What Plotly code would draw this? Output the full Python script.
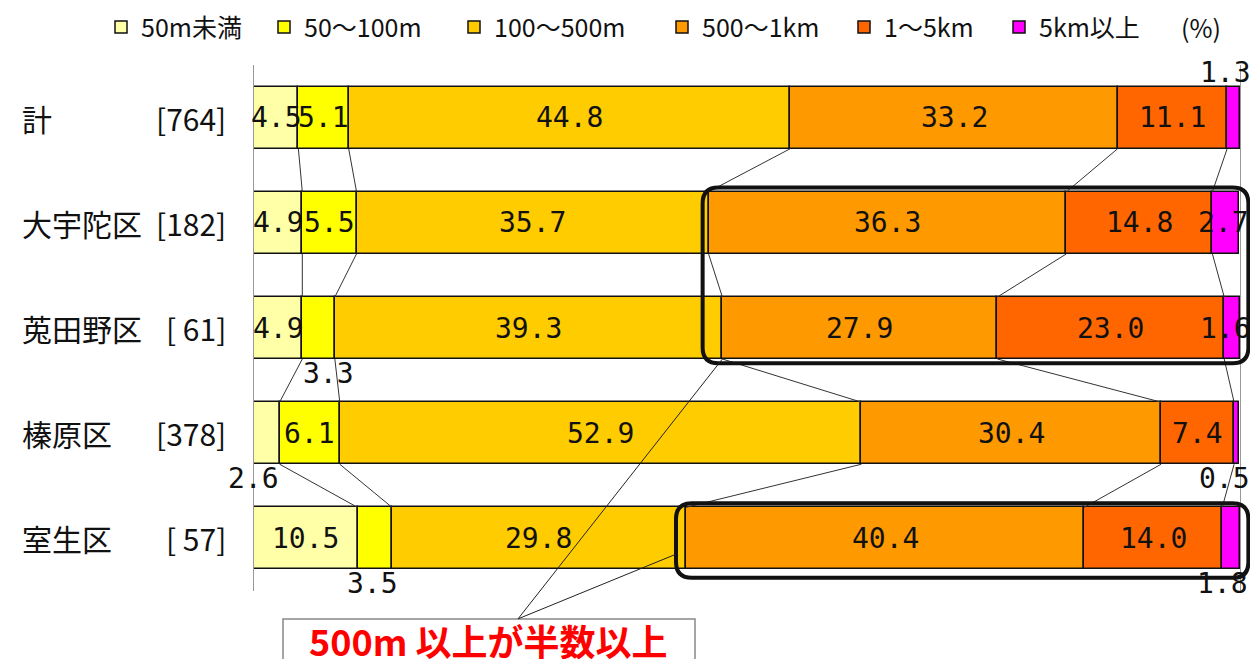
import plotly.graph_objects as go
import numpy as np

# Categories (area name and number of respondents)
areas = ["計", "大宇陀区", "莵田野区", "榛原区", "室生区"]
counts = ["[764]", "[182]", "[ 61]", "[378]", "[ 57]"]

# Distance bands
bands = ["50m未満", "50～100m", "100～500m", "500～1km", "1～5km", "5km以上"]
band_colors = ["#FFFFA8", "#FFFF00", "#FFCC00", "#FF9900", "#FF6600", "#FF00FF"]

# Share (%) per band, one list per band, in area order
lt50 = [4.5, 4.9, 4.9, 2.6, 10.5]
b50_100 = [5.1, 5.5, 3.3, 6.1, 3.5]
b100_500 = [44.8, 35.7, 39.3, 52.9, 29.8]
b500_1k = [33.2, 36.3, 27.9, 30.4, 40.4]
b1_5k = [11.1, 14.8, 23.0, 7.4, 14.0]
ge5k = [1.3, 2.7, 1.6, 0.5, 1.8]

series = [lt50, b50_100, b100_500, b500_1k, b1_5k, ge5k]
vals = np.array(series).T          # rows = areas, cols = bands
cum = np.cumsum(vals, axis=1)      # right edge of each segment
left = cum - vals

# Small segments whose value sits outside the bar: (row, band): (side, xshift)
outside = {
    (0, 5): ("above", -8),
    (2, 1): ("below", 10),
    (3, 0): ("below", -13),
    (3, 5): ("below", -12),
    (4, 1): ("below", -2),
    (4, 5): ("below", -9),
}
inside_shift = {(1, 5): -2, (2, 5): -7}

ypos = list(range(len(areas)))
BW = 0.59
num_font = dict(family="DejaVu Sans Mono", size=28, color="#111111")
cjk = "Noto Sans CJK JP"

# Plot-area geometry in pixels (used to place the per-band legends)
L_MARGIN, PLOT_W = 254, 986
legend_px = [101, 264, 454, 662, 844, 999]

fig = go.Figure()

for j, name in enumerate(bands):
    fig.add_trace(go.Bar(
        y=ypos, x=vals[:, j], base=left[:, j], orientation="h", name=name,
        width=BW, marker=dict(color=band_colors[j], line=dict(color="#111111", width=1.5)),
        hoverinfo="x+name", legend="legend" if j == 0 else f"legend{j + 1}",
    ))

# Connector lines between the segment borders of neighbouring bars
lx, ly = [], []
for i in range(len(areas) - 1):
    for k in range(len(bands) - 1):
        lx += [cum[i, k], cum[i + 1, k], None]
        ly += [ypos[i] + BW / 2, ypos[i + 1] - BW / 2, None]
fig.add_trace(go.Scatter(x=lx, y=ly, mode="lines", line=dict(color="#333333", width=1),
                         showlegend=False, hoverinfo="skip"))

annotations = []
# Value labels
for i in range(len(areas)):
    for j in range(len(bands)):
        v = vals[i, j]
        xc = left[i, j] + v / 2
        txt = f"{v:.1f}"
        if (i, j) in outside:
            side, xs = outside[(i, j)]
            if side == "above":
                annotations.append(dict(x=xc, y=ypos[i] - BW / 2, text=txt, showarrow=False,
                                        xanchor="center", yanchor="bottom", xshift=xs, yshift=-4,
                                        font=num_font))
            else:
                annotations.append(dict(x=xc, y=ypos[i] + BW / 2, text=txt, showarrow=False,
                                        xanchor="center", yanchor="top", xshift=xs, yshift=4,
                                        font=num_font))
        else:
            annotations.append(dict(x=xc, y=ypos[i], text=txt, showarrow=False,
                                    xanchor="center", yanchor="middle",
                                    xshift=inside_shift.get((i, j), 0), font=num_font))

# Row labels: area name on the left, respondent count right-aligned
for i in range(len(areas)):
    annotations.append(dict(x=(20 - L_MARGIN) / PLOT_W, y=ypos[i], xref="paper", text=areas[i],
                            showarrow=False, xanchor="left", yanchor="middle",
                            font=dict(family=cjk, size=30, color="#111111")))
    annotations.append(dict(x=(228 - L_MARGIN) / PLOT_W, y=ypos[i], xref="paper", text=counts[i],
                            showarrow=False, xanchor="right", yanchor="middle",
                            font=dict(family=cjk, size=30, color="#111111")))

# Unit note next to the legend
annotations.append(dict(x=(1201 - L_MARGIN) / PLOT_W, y=1.072, xref="paper", yref="paper", text="(%)",
                        showarrow=False, xanchor="center", yanchor="middle",
                        font=dict(family=cjk, size=25, color="#111111")))

# Callout text
annotations.append(dict(x=(488 - L_MARGIN) / PLOT_W, y=-0.094, xref="paper", yref="paper",
                        text="<b>500m 以上が半数以上</b>", showarrow=False,
                        xanchor="center", yanchor="middle",
                        font=dict(family=cjk, size=36, color="#FF0000")))


def rounded_box(x0, x1, y0, y1, rx, ry):
    # rounded rectangle path in x-domain / y-domain units
    return (f"M{x0 + rx},{y0} L{x1 - rx},{y0} Q{x1},{y0} {x1},{y0 - ry} "
            f"L{x1},{y1 + ry} Q{x1},{y1} {x1 - rx},{y1} L{x0 + rx},{y1} "
            f"Q{x0},{y1} {x0},{y1 + ry} L{x0},{y0 - ry} Q{x0},{y0} {x0 + rx},{y0} Z")


def xd(v):   # data % -> x-domain fraction
    return v / 100.0


def yd(v):   # row position -> y-domain fraction (reversed axis, range 4.5..-0.5)
    return (4.5 - v) / 5.0


shapes = []
rx, ry = 0.016, 0.03
# Highlight around the 500m+ segments of 大宇陀区 / 莵田野区
hx0 = xd(left[1, 3]) - 0.006
shapes.append(dict(type="path", xref="x domain", yref="y domain",
                   path=rounded_box(hx0, 1.0085, yd(ypos[1] - BW / 2 - 0.04), yd(ypos[2] + BW / 2 + 0.04), rx, ry),
                   line=dict(color="#111111", width=4), fillcolor="rgba(0,0,0,0)", layer="above"))
# Highlight around the 500m+ segments of 室生区
lx0 = xd(left[4, 3]) - 0.010
shapes.append(dict(type="path", xref="x domain", yref="y domain",
                   path=rounded_box(lx0, 1.0085, yd(ypos[4] - BW / 2 - 0.04), yd(ypos[4] + BW / 2 + 0.08), rx, ry),
                   line=dict(color="#111111", width=4), fillcolor="rgba(0,0,0,0)", layer="above"))

# Callout box and its two leader lines
cx0, cx1 = (283 - L_MARGIN) / PLOT_W, (695 - L_MARGIN) / PLOT_W
cy0 = -0.053
shapes.append(dict(type="rect", xref="x domain", yref="y domain", x0=cx0, x1=cx1, y0=cy0, y1=-0.2,
                   line=dict(color="#888888", width=1.5), fillcolor="white", layer="above"))
apex_x, apex_y = (518 - L_MARGIN) / PLOT_W, cy0
shapes.append(dict(type="line", xref="x domain", yref="y domain", x0=apex_x, y0=apex_y,
                   x1=xd(left[2, 3]), y1=yd(ypos[2] + BW / 2),
                   line=dict(color="#222222", width=1), layer="above"))
shapes.append(dict(type="line", xref="x domain", yref="y domain", x0=apex_x, y0=apex_y,
                   x1=lx0, y1=yd(ypos[4] + 0.15),
                   line=dict(color="#222222", width=1), layer="above"))

# One single-entry legend per band so each entry sits at its own position
legend_style = dict(orientation="h", yanchor="middle", y=1.072, xanchor="left",
                    font=dict(family=cjk, size=25, color="#111111"),
                    itemclick=False, itemdoubleclick=False, bgcolor="rgba(0,0,0,0)")
legends = {}
for j, px in enumerate(legend_px):
    key = "legend" if j == 0 else f"legend{j + 1}"
    legends[key] = dict(legend_style, x=(px - L_MARGIN) / PLOT_W)

fig.update_layout(
    width=1250, height=659,
    margin=dict(l=L_MARGIN, r=10, t=65, b=68, autoexpand=False),
    paper_bgcolor="white", plot_bgcolor="white",
    barmode="overlay", bargap=0,
    showlegend=True,
    xaxis=dict(range=[0, 100], showgrid=False, zeroline=False, showticklabels=False,
               ticks="", showline=False, fixedrange=True),
    yaxis=dict(range=[4.5, -0.5], showgrid=False, zeroline=False, showticklabels=False,
               ticks="", showline=True, mirror=True, linecolor="#999999", linewidth=1,
               fixedrange=True),
    annotations=annotations,
    shapes=shapes,
    font=dict(family=cjk),
    **legends,
)

fig.write_html("out.html")
